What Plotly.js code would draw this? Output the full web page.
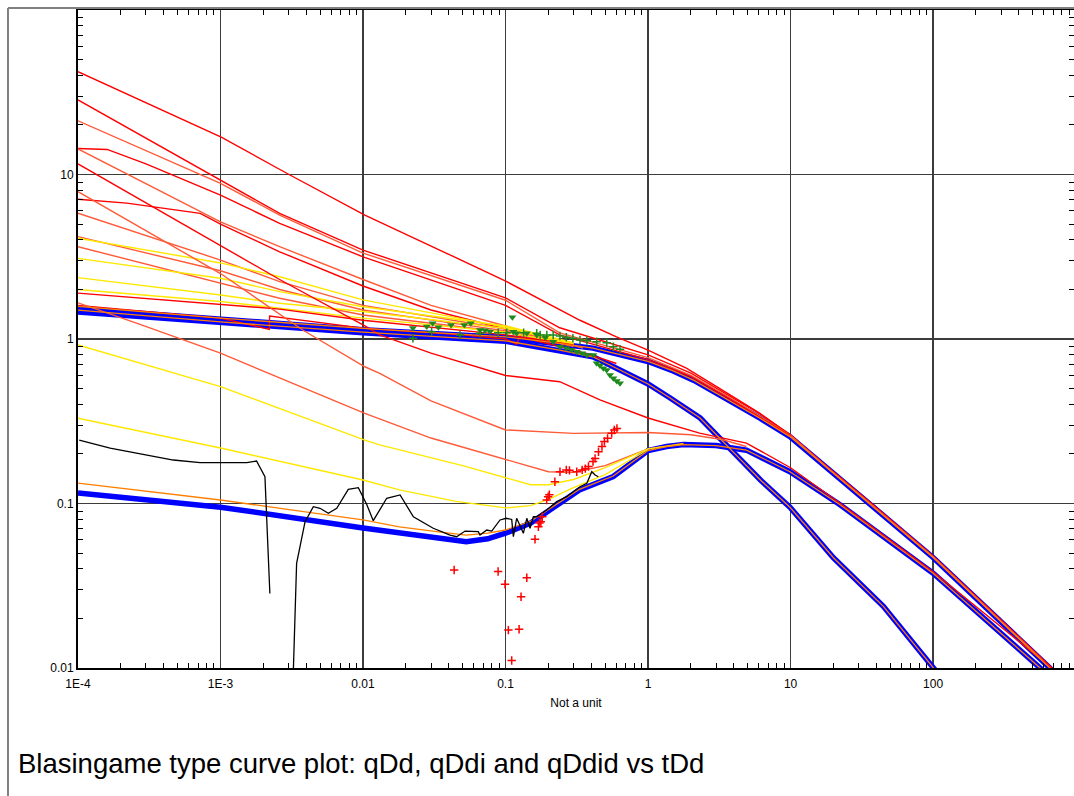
<!DOCTYPE html>
<html><head><meta charset="utf-8">
<script src="https://cdn.plot.ly/plotly-3.0.1.min.js"></script>
<style>html,body{margin:0;padding:0;background:#fff}#chart{width:1074px;height:796px}</style>
</head><body><div id="chart"></div>
<script>
// ---- Tick labels ----
const xTickVals = [1e-4, 1e-3, 1e-2, 0.1, 1, 10, 100];
const xTickText = ['1E-4', '1E-3', '0.01', '0.1', '1', '10', '100'];
const yTickVals = [0.01, 0.1, 1, 10];
const yTickText = ['0.01', '0.1', '1', '10'];

// ---- Boundary-dominated stems (blue) ----
const s1X = [1e-4, 1e-3, 1e-2, 0.1, 0.24, 0.41, 1, 1.5, 2.1, 3.6, 6.1, 9.9, 18, 36, 100, 660, 800];
const s1Y = [1.53, 1.31, 1.14, 1.02, 0.94, 0.88, 0.73, 0.64, 0.56, 0.43, 0.33, 0.255, 0.165, 0.099, 0.047, 0.01, 0.0085];
const s2X = [1e-4, 1e-3, 1e-2, 0.1, 0.24, 0.41, 0.54, 1.0, 1.43, 2.32, 3.95, 6.2, 9.9, 20, 44.8, 100, 120];
const s2Y = [1.46, 1.25, 1.09, 0.97, 0.857, 0.78, 0.695, 0.533, 0.438, 0.331, 0.206, 0.138, 0.095, 0.0468, 0.0237, 0.01, 0.0083];
const s3X = [1e-4, 1e-3, 0.01, 0.018, 0.035, 0.053, 0.075, 0.1, 0.15, 0.23, 0.33, 0.57, 1.0, 1.35, 1.77, 3.0, 4.9, 9.9, 22, 100, 564, 700];
const s3Y = [0.116, 0.095, 0.071, 0.066, 0.061, 0.0586, 0.061, 0.066, 0.076, 0.099, 0.121, 0.146, 0.21, 0.222, 0.228, 0.225, 0.211, 0.156, 0.099, 0.0377, 0.01, 0.0082];

// ---- Orange curves riding on the stems ----
const o1Y = [1.58, 1.34, 1.16, 1.03, 0.94, 0.88, 0.73, 0.64, 0.56, 0.43, 0.33, 0.255, 0.165, 0.099, 0.047, 0.01, 0.0085];
const o2Y = [1.50, 1.27, 1.10, 0.975, 0.857, 0.78, 0.695, 0.533, 0.438, 0.331, 0.206, 0.138, 0.095, 0.0468, 0.0237, 0.01, 0.0083];
const o3Y = [0.133, 0.105, 0.0794, 0.072, 0.067, 0.0643, 0.066, 0.069, 0.078, 0.1, 0.122, 0.147, 0.21, 0.222, 0.228, 0.225, 0.211, 0.156, 0.099, 0.0377, 0.01, 0.0082];

// ---- Transient type curves ----
const f1X = [1e-4, 1.02e-3, 3.07e-3, 0.0103, 0.0386, 0.102, 0.333, 0.6, 1.0, 1.87, 3.03, 6.1, 9.9, 18, 36, 100, 660, 800];
const f1Y = [42.2, 16.8, 9.93, 5.67, 3.32, 2.23, 1.30, 1.03, 0.857, 0.663, 0.513, 0.353, 0.262, 0.168, 0.102, 0.048, 0.0103, 0.0088];
const f2X = [1e-4, 1e-3, 2.6e-3, 0.01, 0.1, 0.24, 1, 2, 3.6, 6.1, 10, 18, 36, 100, 660, 800];
const f2Y = [28.4, 9.26, 5.8, 3.47, 1.78, 1.17, 0.80, 0.62, 0.46, 0.35, 0.262, 0.167, 0.101, 0.0478, 0.0102, 0.0087];
const f3Y = [21.2, 8.84, 5.67, 3.33, 1.72, 1.09, 0.77, 0.60, 0.45, 0.34, 0.259, 0.166, 0.1, 0.0475, 0.0101, 0.0086];
const f4X = [1e-4, 1.6e-4, 3e-4, 1e-3, 2.6e-3, 0.01, 0.1, 0.24, 1, 2, 3.6, 6.1, 10];
const f4Y = [14.4, 14.2, 11.6, 7.5, 5.04, 3.16, 1.6, 1.06, 0.75, 0.59, 0.44, 0.335, 0.257];
const f5X = [1e-4, 1e-3, 2.6e-3, 0.01, 0.03, 0.1, 0.2, 0.35];
const f5Y = [14.3, 5.15, 3.64, 2.3, 1.6, 1.2, 1.0, 0.88];
const f6X = [1e-4, 2.2e-4, 7.2e-4, 1e-3, 2.6e-3, 0.01, 0.03, 0.1, 0.3];
const f6Y = [7.07, 6.7, 5.8, 5.0, 3.39, 2.1, 1.5, 1.15, 0.92];
const bandX = [1e-4, 1e-3, 2.6e-3, 0.01, 0.1, 0.3];
const f7Y = [5.81, 3.02, 2.23, 1.6, 1.15, 0.92];
const f8Y = [4.19, 2.6, 2.0, 1.5, 1.12, 0.9];
const f9Y = [3.64, 2.18, 1.77, 1.4, 1.1, 0.91];
const y1Y = [4.1, 2.9, 2.39, 1.73, 1.18, 0.93];
const y2Y = [3.09, 2.34, 1.94, 1.57, 1.2, 0.95];
const y3Y = [2.36, 1.85, 1.65, 1.47, 1.16, 0.94];
const y4Y = [2.0, 1.69, 1.54, 1.34, 1.1, 0.93];
const r2Y = [1.90, 1.62, 1.52, 1.3, 1.06, 0.92];
const r1X = [1e-4, 1e-3, 2.2e-3, 2.21e-3, 0.0103, 0.05, 0.1, 0.12, 0.125, 0.2, 0.3, 0.5, 0.6];
const r1Y = [1.60, 1.34, 1.145, 1.38, 1.16, 1.06, 1.0, 0.93, 1.03, 0.93, 0.86, 0.75, 0.71];

// ---- Derivative-integral type curves ----
const d1X = [1e-4, 1e-3, 2.6e-3, 0.0103, 0.0131, 0.03, 0.1, 0.24, 0.46, 1, 2.3, 4.9, 10, 22, 100, 660, 800];
const d1Y = [11.6, 3.7, 2.3, 1.2, 1.06, 0.82, 0.60, 0.55, 0.426, 0.331, 0.268, 0.233, 0.165, 0.101, 0.0385, 0.0102, 0.0088];
const d3X = [1e-4, 1e-3, 3.8e-3, 0.0103, 0.0131, 0.03, 0.1, 0.3, 1, 2, 3.3, 4.9];
const d3Y = [7.86, 2.5, 1.13, 0.678, 0.618, 0.42, 0.28, 0.267, 0.27, 0.262, 0.245, 0.222];
const d2X = [1e-4, 2.6e-4, 1e-3, 0.0103, 0.03, 0.1, 0.2, 0.3, 0.5, 1, 1.77];
const d2Y = [1.66, 1.245, 0.82, 0.353, 0.25, 0.185, 0.156, 0.155, 0.17, 0.215, 0.232];
const y5X = [1e-4, 1e-3, 0.0103, 0.0131, 0.05, 0.1, 0.15, 0.2, 0.3, 0.5, 1, 1.77];
const y5Y = [0.92, 0.513, 0.243, 0.227, 0.17, 0.143, 0.13, 0.13, 0.14, 0.165, 0.215, 0.23];
const y6X = [1e-4, 1e-3, 0.01, 0.018, 0.045, 0.1, 0.15, 0.2, 0.3, 0.5, 1];
const y6Y = [0.33, 0.2175, 0.139, 0.121, 0.103, 0.094, 0.097, 0.106, 0.125, 0.15, 0.213];

// ---- Field data ----
const blackX = [1.02e-4, 1.68e-4, 4.67e-4, 7.18e-4, 1.53e-3, 1.79e-3, 2.05e-3, 2.14e-3, 2.22e-3, null, 3.17e-3, 3.42e-3, 3.92e-3, 4.48e-3, 4.99e-3, 5.71e-3, 6.54e-3, 7.88e-3, 9.27e-3, 0.0106, 0.0118, 0.01466, 0.0182, 0.02256, 0.0311, 0.0408, 0.0454, 0.052, 0.0644, 0.0662, 0.0738, 0.08, 0.0915, 0.101, 0.1105, 0.1135, 0.1197, 0.1264, 0.1334, 0.141, 0.1486, 0.1568, 0.1655, 0.1945, 0.2286, 0.269, 0.333, 0.372, 0.403, 0.425, 0.448];
const blackY = [0.243, 0.217, 0.1838, 0.177, 0.177, 0.1813, 0.1455, 0.0628, 0.0284, null, 0.005, 0.0433, 0.0775, 0.0956, 0.0935, 0.0872, 0.0935, 0.122, 0.1248, 0.099, 0.0786, 0.1076, 0.1127, 0.0831, 0.0707, 0.0643, 0.0628, 0.068, 0.0674, 0.0643, 0.069, 0.068, 0.0794, 0.0813, 0.08, 0.0628, 0.0813, 0.0722, 0.0659, 0.0813, 0.0707, 0.0831, 0.0831, 0.0913, 0.1026, 0.11, 0.1265, 0.1327, 0.156, 0.149, 0.1455];

const redPlusX = [0.0436, 0.0887, 0.0992, 0.1047, 0.1245, 0.1105, 0.1285, 0.141, 0.161, 0.170, 0.173, 0.177, 0.181, 0.1945, 0.199, 0.203, 0.222, 0.241, 0.267, 0.281, 0.316, 0.345, 0.363, 0.382, 0.411, 0.425, 0.449, 0.475, 0.494, 0.52, 0.556, 0.58, 0.605];
const redPlusY = [0.0394, 0.0386, 0.0323, 0.0170, 0.0172, 0.0111, 0.0271, 0.0354, 0.0606, 0.0722, 0.0761, 0.0775, 0.0831, 0.105, 0.110, 0.113, 0.1357, 0.156, 0.16, 0.159, 0.156, 0.16, 0.163, 0.168, 0.18, 0.188, 0.206, 0.222, 0.238, 0.249, 0.267, 0.28, 0.286];

const greenTriX = [0.0224, 0.028, 0.0308, 0.0338, 0.0415, 0.0514, 0.057, 0.0662, 0.0718, 0.0778, 0.1117, 0.1135, 0.1197, 0.141, 0.1655, 0.19, 0.216, 0.241, 0.267, 0.29, 0.316, 0.345, 0.372, 0.413, 0.436, 0.46, 0.486, 0.513, 0.541, 0.571, 0.603, 0.636];
const greenTriY = [1.166, 1.19, 1.246, 1.18, 1.216, 1.216, 1.246, 1.134, 1.13, 1.11, 1.355, 1.108, 1.083, 1.083, 1.058, 1.02, 0.963, 0.898, 0.878, 0.86, 0.837, 0.82, 0.799, 0.799, 0.712, 0.69, 0.664, 0.648, 0.604, 0.577, 0.556, 0.538];
const greenPlusX = [0.0224, 0.0303, 0.048, 0.0662, 0.0888, 0.102, 0.134, 0.1655, 0.175, 0.195, 0.216, 0.241, 0.267, 0.297, 0.333, 0.372, 0.436, 0.513, 0.571, 0.636];
const greenPlusY = [1.01, 1.107, 1.058, 1.083, 1.092, 1.092, 1.092, 1.083, 1.058, 1.058, 1.058, 1.043, 1.024, 1.01, 0.986, 0.977, 0.963, 0.95, 0.898, 0.866];

// ---- Colours ----
const RED = '#ff0000', ORED = '#ff5a38', YEL = '#ffe800', ORG = '#ff8000', BLUE = '#0000ff', GREEN = '#1e8a1e';

function line(x, y, color, width) {
  return {type: 'scatter', mode: 'lines', x: x, y: y, hoverinfo: 'skip',
          line: {color: color, width: width, shape: 'linear'}};
}

const traces = [
  line(s1X, s1Y, BLUE, 5.5), line(s2X, s2Y, BLUE, 5.5), line(s3X, s3Y, BLUE, 5.5),
  line(f1X, f1Y, RED, 1.4), line(f2X, f2Y, RED, 1.4), line(f2X, f3Y, ORED, 1.4),
  line(f4X, f4Y, RED, 1.4), line(f5X, f5Y, ORED, 1.4), line(f6X, f6Y, RED, 1.4),
  line(bandX, f7Y, ORED, 1.4), line(bandX, f8Y, ORED, 1.4), line(bandX, f9Y, ORED, 1.4),
  line(bandX, y1Y, YEL, 1.4), line(bandX, y2Y, YEL, 1.4), line(bandX, y3Y, YEL, 1.4), line(bandX, y4Y, YEL, 1.4),
  line(bandX, r2Y, RED, 1.4), line(r1X, r1Y, RED, 1.4),
  line(d1X, d1Y, RED, 1.4), line(d3X, d3Y, ORED, 1.4), line(d2X, d2Y, ORED, 1.4),
  line(y5X, y5Y, YEL, 1.4), line(y6X, y6Y, YEL, 1.4),
  line(s1X, o1Y, ORG, 1.3), line(s2X, o2Y, ORG, 1.3), line(s3X, o3Y, ORG, 1.3),
  line(blackX, blackY, '#000000', 1.3),
  {type: 'scatter', mode: 'markers', x: redPlusX, y: redPlusY, hoverinfo: 'skip',
   marker: {symbol: 'cross-thin-open', size: 6, color: RED, line: {color: RED, width: 1.5}}},
  {type: 'scatter', mode: 'markers', x: greenTriX, y: greenTriY, hoverinfo: 'skip',
   marker: {symbol: 'triangle-down', size: 7, color: GREEN, line: {width: 0}}},
  {type: 'scatter', mode: 'markers', x: greenPlusX, y: greenPlusY, hoverinfo: 'skip',
   marker: {symbol: 'cross-thin-open', size: 6, color: GREEN, line: {color: GREEN, width: 1.5}}}
];

function minorVals(lo, hi) {
  const v = [];
  for (let e = lo; e < hi; e++) for (let k = 2; k <= 9; k++) v.push(k * Math.pow(10, e));
  return v;
}

const FONT = 'Liberation Sans, Arial, sans-serif';
const axisCommon = {
  type: 'log', showgrid: true, gridcolor: '#3c3c3c', gridwidth: 1.5,
  showline: true, linecolor: '#000', linewidth: 2, mirror: 'allticks',
  ticks: 'inside', ticklen: 0, tickcolor: '#000', zeroline: false,
  tickfont: {family: FONT, size: 12, color: '#000'},
  minor: {ticks: 'inside', ticklen: 5, tickwidth: 1, tickcolor: '#000', showgrid: false}
};

const layout = {
  width: 1074, height: 796,
  margin: {l: 78, r: 0, t: 10, b: 128},
  paper_bgcolor: '#fff', plot_bgcolor: '#fff',
  showlegend: false,
  title: {text: 'Blasingame type curve plot: qDd, qDdi and qDdid vs tDd',
          font: {family: FONT, size: 27.5, color: '#000'},
          xref: 'container', yref: 'container', x: 18 / 1074, xanchor: 'left',
          y: 1 - 763 / 796, yanchor: 'middle'},
  xaxis: Object.assign({}, axisCommon, {
    range: [-4, 2.989], tickmode: 'array', tickvals: xTickVals, ticktext: xTickText,
    ticklabelstandoff: 4,
    minor: Object.assign({}, axisCommon.minor, {tickmode: 'array', tickvals: minorVals(-4, 3)}),
    title: {text: 'Not a unit', font: {family: FONT, size: 12, color: '#000'}, standoff: 8}
  }),
  yaxis: Object.assign({}, axisCommon, {
    range: [-2, 2], tickmode: 'array', tickvals: yTickVals, ticktext: yTickText,
    minor: Object.assign({}, axisCommon.minor, {tickmode: 'array', tickvals: minorVals(-2, 2)})
  }),
  shapes: [
    {type: 'line', xref: 'paper', yref: 'paper', x0: -0.0703, x1: -0.0703, y0: 1.003, y1: -0.195,
     line: {color: '#808080', width: 2}},
    {type: 'line', xref: 'paper', yref: 'paper', x0: -0.0703, x1: 1.0, y0: 1.003, y1: 1.003,
     line: {color: '#808080', width: 2}}
  ]
};

Plotly.newPlot('chart', traces, layout, {displayModeBar: false, staticPlot: true});
</script>
</body></html>
